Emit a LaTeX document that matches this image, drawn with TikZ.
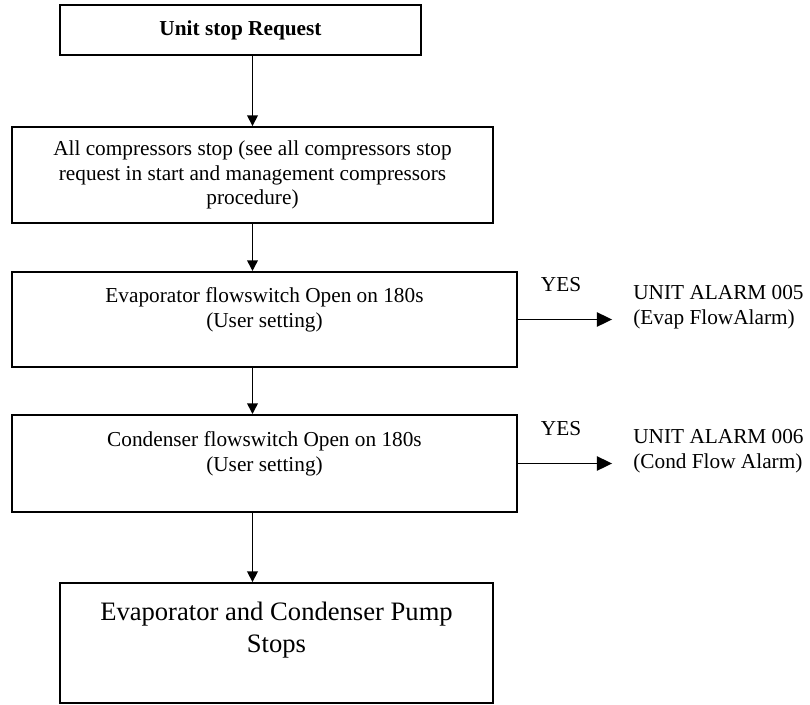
\documentclass[tikz,border=0pt]{standalone}
\usepackage{fontspec}
\setmainfont{Liberation Serif}
\usetikzlibrary{arrows.meta,positioning}

\tikzset{
    % Process box style
    procbox/.style={
        rectangle,
        draw=black,
        line width=1.1pt,
        align=center,
        inner sep=2pt,
        font=\fontsize{12}{13.8}\selectfont
    },
    % Alarm text style
    alarm text/.style={
        align=left,
        anchor=west,
        inner sep=0pt,
        font=\fontsize{12}{13.8}\selectfont
    },
    % Label style
    label text/.style={
        inner sep=0pt,
        font=\fontsize{12}{13.8}\selectfont
    },
    % Arrow styles
    down arrow/.style={
        -{Triangle[length=6pt, width=6pt]},
        line width=0.9pt
    },
    yes arrow/.style={
        -{Triangle[length=8.5pt, width=8pt]},
        line width=0.9pt,
        shorten >=11.8pt
    }
}

\begin{document}
\begin{tikzpicture}[x=0.5637pt, y=-0.5637pt]
    \useasboundingbox (0,0) rectangle (810,704);

    % Main flow
    \node[procbox, minimum width=203.5pt, minimum height=28.2pt, font=\fontsize{12}{13.8}\selectfont\bfseries] (request) at (240.5,30) {Unit stop Request};
    \node[procbox, minimum width=271.1pt, minimum height=54.1pt] (compstop) at (252.5,175) {All compressors stop (see all compressors stop\\request in start and management compressors\\procedure)};
    \node[procbox, minimum width=284.7pt, minimum height=53.6pt] (evapflow) at (264.5,319.5) {Evaporator flowswitch Open on 180s\\(User setting)\\\mbox{}};
    \node[procbox, minimum width=284.7pt, minimum height=54.7pt] (condflow) at (264.5,463.5) {Condenser flowswitch Open on 180s\\(User setting)\\\mbox{}};
    \node[procbox, minimum width=244.1pt, minimum height=67.6pt, font=\fontsize{15}{18}\selectfont] (pumpstop) at (276.5,643) {Evaporator and Condenser Pump\\Stops\\\mbox{}};

    % Alarms
    \node[alarm text] (evapalarm) at (633,307) {UNIT ALARM 005\\(Evap FlowAlarm)};
    \node[alarm text] (condalarm) at (633,451) {UNIT ALARM 006\\(Cond Flow Alarm)};
    \node[label text] (yesevap) at (561,285) {YES};
    \node[label text] (yescond) at (561,429) {YES};

    % Connections
    \draw[down arrow] (compstop.north |- request.south) -- (compstop.north);
    \draw[down arrow] (compstop.south) -- (compstop.south |- evapflow.north);
    \draw[down arrow] (compstop.south |- evapflow.south) -- (compstop.south |- condflow.north);
    \draw[down arrow] (compstop.south |- condflow.south) -- (compstop.south |- pumpstop.north);
    \draw[yes arrow] (evapflow.east) -- (evapflow.east -| evapalarm.west);
    \draw[yes arrow] (condflow.east) -- (condflow.east -| condalarm.west);

\end{tikzpicture}
\end{document}
